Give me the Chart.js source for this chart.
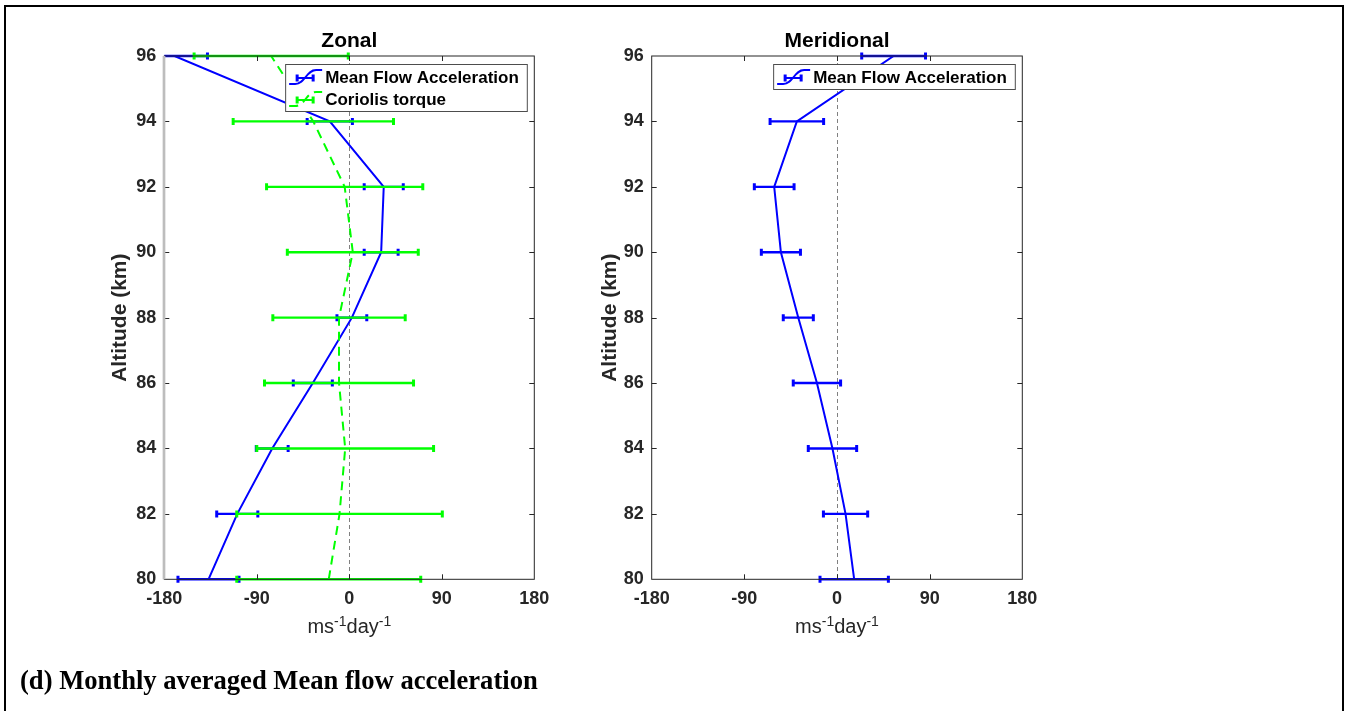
<!DOCTYPE html>
<html>
<head>
<meta charset="utf-8">
<title>Monthly averaged Mean flow acceleration</title>
<script src="https://cdn.jsdelivr.net/npm/chart.js@4.4.1/dist/chart.umd.min.js"></script>
<style>
  html, body { margin: 0; padding: 0; background: #fff; width: 1347px; height: 711px; overflow: hidden; }
  #frame {
    position: absolute; left: 4px; top: 5px; width: 1340px; height: 730px;
    border: 2.5px solid #000; box-sizing: border-box;
  }
  canvas { position: absolute; top: 0; }
  #zonal { left: 0; }
  #meridional { left: 590px; }
  #caption {
    position: absolute; left: 20px; top: 667px;
    font: bold 26.6px "Liberation Serif", "Times New Roman", serif;
    line-height: 1; white-space: nowrap; color: #000;
  }
</style>
</head>
<body>
<div id="frame"></div>
<canvas id="zonal" width="590" height="711" style="width:590px;height:711px"></canvas>
<canvas id="meridional" width="540" height="711" style="width:540px;height:711px"></canvas>
<div id="caption">(d) Monthly averaged Mean flow acceleration</div>

<script>
// Altitude levels, km
const altitudes = [80, 82, 84, 86, 88, 90, 92, 94, 96];

// Zonal component, m s^-1 day^-1
const zonalMfa      = [-137, -109, -75, -35.5, 2.5, 31, 33.5, -19, -170];
const zonalMfaErr   = [29.7, 20, 15.5, 19, 14.5, 16.5, 19, 22, 32];
const coriolis      = [-20, -9.5, -4, -10, -10, 3.4, -4.5, -35, -76];
const coriolisErr   = [89.5, 100, 86, 72.5, 64.4, 63.7, 76, 78, 75];

// Meridional component, m s^-1 day^-1
const meridMfa      = [16.7, 8.3, -4.4, -19.5, -37.6, -54.5, -61, -39, 55];
const meridMfaErr   = [33.2, 21.5, 23.5, 23, 14.6, 19, 19.3, 26, 31];

// Axis ticks
const xTicks = [-180, -90, 0, 90, 180];
const yTicks = [80, 82, 84, 86, 88, 90, 92, 94, 96];

const FONT  = '"Liberation Sans", Arial, Helvetica, sans-serif';
const AXIS  = '#262626';
const BLUE  = '#0000ff';
const GREEN = '#00ff00';

const toPoints = vals => altitudes.map((a, i) => ({ x: vals[i], y: a }));

// ── horizontal error bars with caps ──────────────────────────────
function drawErrorBars(chart, ds) {
  const { ctx, chartArea: a, scales: { x, y } } = chart;
  ctx.save();
  ctx.beginPath();
  ctx.rect(a.left, 0, a.right - a.left, chart.height);
  ctx.clip();
  ctx.strokeStyle = ds.borderColor;
  ctx.setLineDash([]);
  ds.data.forEach((p, i) => {
    const e  = ds.errors[i];
    const yp = y.getPixelForValue(p.y);
    const xl = x.getPixelForValue(p.x - e);
    const xr = x.getPixelForValue(p.x + e);
    ctx.lineWidth = 2.4;
    ctx.beginPath();
    ctx.moveTo(xl, yp); ctx.lineTo(xr, yp);
    ctx.stroke();
    ctx.lineWidth = 3;
    ctx.beginPath();
    ctx.moveTo(xl, yp - 3.5); ctx.lineTo(xl, yp + 3.5);
    ctx.moveTo(xr, yp - 3.5); ctx.lineTo(xr, yp + 3.5);
    ctx.stroke();
  });
  ctx.restore();
}

// ── legend icon: curved line with a small error bar ──────────────
function drawLegendIcon(ctx, x0, cy, color, dash) {
  const x1 = x0 + 33;
  ctx.strokeStyle = color;
  ctx.lineWidth = 2;
  ctx.setLineDash(dash || []);
  ctx.beginPath();
  ctx.moveTo(x0, cy + 7);
  ctx.lineTo(x0 + 6, cy + 7);
  ctx.bezierCurveTo(x0 + 16, cy + 7, x0 + 17, cy - 7, x1 - 6, cy - 7);
  ctx.lineTo(x1, cy - 7);
  ctx.stroke();
  ctx.setLineDash([]);
  ctx.beginPath();
  ctx.moveTo(x0 + 8, cy + 1); ctx.lineTo(x0 + 24, cy + 1);
  ctx.stroke();
  ctx.lineWidth = 3;
  ctx.beginPath();
  ctx.moveTo(x0 + 8, cy - 2.5);  ctx.lineTo(x0 + 8, cy + 4.5);
  ctx.moveTo(x0 + 24, cy - 2.5); ctx.lineTo(x0 + 24, cy + 4.5);
  ctx.stroke();
}

function drawLegend(chart, datasets) {
  const { ctx, chartArea: a } = chart;
  ctx.save();
  ctx.font = `bold 17px ${FONT}`;
  const textW = Math.max(...datasets.map(d => ctx.measureText(d.label).width));
  const w = 40 + textW + 8;
  const h = 13 + (datasets.length - 1) * 22 + 12;
  const left = a.right - 7.5 - w;
  const top  = a.top + 8;
  ctx.fillStyle = '#fff';
  ctx.fillRect(left, top, w, h);
  ctx.strokeStyle = '#4d4d4d';
  ctx.lineWidth = 1;
  ctx.strokeRect(left + 0.5, top + 0.5, w, h);
  datasets.forEach((d, i) => {
    const cy = top + 13 + i * 22;
    drawLegendIcon(ctx, left + 4, cy, d.borderColor, d.borderDash);
    ctx.fillStyle = '#000';
    ctx.textBaseline = 'middle';
    ctx.textAlign = 'left';
    ctx.fillText(d.label, left + 40, cy + 1);
  });
  ctx.restore();
}

// ── x-axis title with superscripts ───────────────────────────────
function drawXTitle(chart) {
  const { ctx, chartArea: a } = chart;
  const parts = [['ms', 20, 0], ['-1', 14, 7], ['day', 20, 0], ['-1', 14, 7]];
  ctx.save();
  ctx.fillStyle = AXIS;
  ctx.textBaseline = 'alphabetic';
  ctx.textAlign = 'left';
  let total = 0;
  parts.forEach(([t, s]) => { ctx.font = `${s}px ${FONT}`; total += ctx.measureText(t).width; });
  let x = (a.left + a.right) / 2 - total / 2;
  const base = 633;
  parts.forEach(([t, s, rise]) => {
    ctx.font = `${s}px ${FONT}`;
    ctx.fillText(t, x, base - rise);
    x += ctx.measureText(t).width;
  });
  ctx.restore();
}

// ── box, inward ticks, zero reference line ───────────────────────
const profileDecor = {
  id: 'profileDecor',
  beforeDatasetsDraw(chart) {
    const { ctx, chartArea: a, scales: { x } } = chart;
    const x0 = Math.round(x.getPixelForValue(0)) + 0.5;
    ctx.save();
    ctx.strokeStyle = '#808080';
    ctx.lineWidth = 1;
    ctx.setLineDash([4, 3]);
    ctx.beginPath();
    ctx.moveTo(x0, a.top); ctx.lineTo(x0, a.bottom);
    ctx.stroke();
    ctx.restore();
  },
  beforeDatasetDraw(chart, args) {
    const ds = chart.data.datasets[args.index];
    if (ds.errors) drawErrorBars(chart, ds);
  },
  afterDatasetsDraw(chart, args, opts) {
    const { ctx, chartArea: a, scales: { x, y } } = chart;
    ctx.save();
    ctx.strokeStyle = AXIS;
    ctx.lineWidth = 1;
    ctx.setLineDash([]);
    ctx.strokeRect(a.left, a.top, a.right - a.left, a.bottom - a.top);
    ctx.beginPath();
    xTicks.slice(1, -1).forEach(v => {
      const px = Math.round(x.getPixelForValue(v)) + 0.5;
      ctx.moveTo(px, a.bottom); ctx.lineTo(px, a.bottom - 5);
      ctx.moveTo(px, a.top);    ctx.lineTo(px, a.top + 5);
    });
    yTicks.slice(1, -1).forEach(v => {
      const py = Math.round(y.getPixelForValue(v)) + 0.5;
      ctx.moveTo(a.left, py);  ctx.lineTo(a.left + 5, py);
      ctx.moveTo(a.right, py); ctx.lineTo(a.right - 5, py);
    });
    ctx.stroke();
    if (opts.leftEdge) {
      ctx.strokeStyle = opts.leftEdge;
      ctx.lineWidth = 2.7;
      ctx.beginPath();
      ctx.moveTo(a.left - 0.3, a.top); ctx.lineTo(a.left - 0.3, a.bottom);
      ctx.stroke();
    }
    ctx.restore();
    drawLegend(chart, opts.legendSets.map(i => chart.data.datasets[i]));
  },
  afterDraw(chart) {
    drawXTitle(chart);
  }
};

function makeProfileChart(id, title, datasets, geom) {
  return new Chart(document.getElementById(id), {
    type: 'scatter',
    data: { datasets },
    plugins: [profileDecor],
    options: {
      responsive: false,
      animation: false,
      devicePixelRatio: 1,
      layout: { padding: { left: geom.padLeft, right: geom.padRight, top: 0, bottom: 0 } },
      plugins: {
        legend: { display: false },
        tooltip: { enabled: false },
        title: {
          display: true,
          text: title,
          color: '#000',
          fullSize: false,
          font: { family: FONT, size: 21, weight: 'bold', lineHeight: 1.2 },
          padding: { top: 29.1, bottom: 1.7 },
        },
        profileDecor: { leftEdge: geom.leftEdge, legendSets: geom.legendSets },
      },
      scales: {
        x: {
          type: 'linear',
          min: -180, max: 180,
          afterBuildTicks: s => { s.ticks = xTicks.map(v => ({ value: v })); },
          ticks: {
            padding: 8.5,
            color: AXIS,
            font: { family: FONT, size: 18, weight: 'bold' },
            callback: v => String(v),
          },
          grid: { display: false, drawTicks: false },
          border: { display: false },
          afterFit: s => { s.height = 711 - 579.3; },
        },
        y: {
          type: 'linear',
          min: 80, max: 96,
          afterBuildTicks: s => { s.ticks = yTicks.map(v => ({ value: v })); },
          ticks: {
            padding: 8,
            color: AXIS,
            font: { family: FONT, size: 18, weight: 'bold' },
            callback: v => String(v),
          },
          grid: { display: false, drawTicks: false },
          border: { display: false },
          title: {
            display: true,
            text: 'Altitude (km)',
            color: AXIS,
            font: { family: FONT, size: 21, weight: 'bold', lineHeight: 1.2 },
            padding: { top: geom.titlePad, bottom: 0 },
          },
          afterFit: s => { s.width = geom.yWidth; },
        },
      },
    },
  });
}

// Zonal: mean flow acceleration and Coriolis torque
makeProfileChart('zonal', 'Zonal', [
  {
    label: 'Mean Flow Acceleration',
    data: toPoints(zonalMfa),
    errors: zonalMfaErr,
    borderColor: BLUE,
    borderWidth: 2,
    showLine: true,
    pointRadius: 0,
    order: 1,
  },
  {
    label: 'Coriolis torque',
    data: toPoints(coriolis),
    errors: coriolisErr,
    borderColor: GREEN,
    borderWidth: 2,
    borderDash: [9, 6],
    showLine: true,
    pointRadius: 0,
    order: 0,
  },
], { padLeft: 100, yWidth: 64.3, padRight: 55.7, titlePad: 8.1, leftEdge: '#bdbdbd', legendSets: [0, 1] });

// Meridional: mean flow acceleration only
makeProfileChart('meridional', 'Meridional', [
  {
    label: 'Mean Flow Acceleration',
    data: toPoints(meridMfa),
    errors: meridMfaErr,
    borderColor: BLUE,
    borderWidth: 2,
    showLine: true,
    pointRadius: 0,
  },
], { padLeft: 0, yWidth: 61.7, padRight: 540 - 432.3, titlePad: 7.4, leftEdge: null, legendSets: [0] });
</script>
</body>
</html>
